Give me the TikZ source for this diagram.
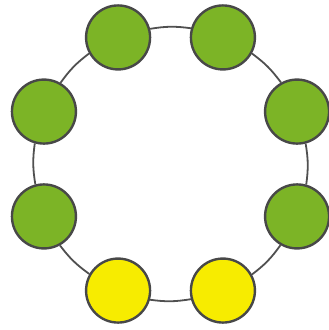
\documentclass[tikz,border=0pt]{standalone}
\usetikzlibrary{backgrounds}
\begin{document}
\begin{tikzpicture}[x=1pt,y=1pt,
  ball/.style={circle,draw=ringgray,line width=2.4pt,minimum size=64pt,inner sep=0pt},
  gball/.style={ball,fill=leafgreen},
  yball/.style={ball,fill=sunyellow},
  link/.style={draw=linkgray,line width=1.8pt,bend right=8.7}]
\definecolor{leafgreen}{RGB}{124,180,38}
\definecolor{sunyellow}{RGB}{247,236,0}
\definecolor{ringgray}{RGB}{72,72,72}
\definecolor{linkgray}{RGB}{80,80,80}
\useasboundingbox (0,-330) rectangle (329,0);
\coordinate (c) at (170.5,-164);
\foreach \n/\a in {1/22.5,2/67.5,3/112.5,4/157.5,5/202.5,6/247.5,7/292.5,8/337.5}
  \coordinate (p\n) at ([shift={(\a:137)}]c);
\node[gball] (n1) at (p1) {};
\node[gball] (n2) at (p2) {};
\node[gball] (n3) at (p3) {};
\node[gball] (n4) at (p4) {};
\node[gball] (n5) at (p5) {};
\node[yball] (n6) at (p6) {};
\node[yball] (n7) at (p7) {};
\node[gball] (n8) at (p8) {};
\begin{scope}[on background layer]
\foreach \i/\j/\a in {1/2/22.5,2/3/67.5,3/4/112.5,4/5/157.5,5/6/202.5,6/7/247.5,7/8/292.5,8/1/337.5}{
  \pgfmathsetmacro{\sa}{\a+96.9}
  \pgfmathsetmacro{\ea}{\a-51.9}
  \draw[link] (n\i.\sa) to (n\j.\ea);
}
\end{scope}
\end{tikzpicture}
\end{document}
